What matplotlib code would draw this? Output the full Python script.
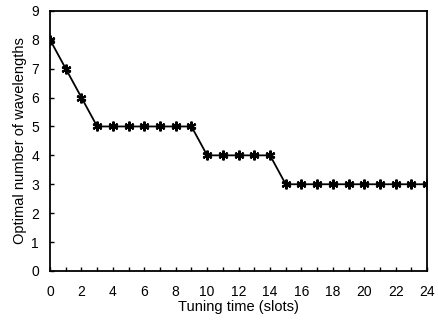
import matplotlib
matplotlib.use("Agg")
import matplotlib.pyplot as plt

tuning_time = list(range(0, 25))
wavelengths = [8, 7, 6, 5, 5, 5, 5, 5, 5, 5, 4, 4, 4, 4, 4, 3, 3, 3, 3, 3, 3, 3, 3, 3, 3]
x_ticks = list(range(0, 25, 2))
y_ticks = list(range(0, 10))

plt.rcParams['font.family'] = ['Liberation Sans', 'DejaVu Sans']
fig = plt.figure(figsize=(4.39, 3.21), dpi=100)
ax = fig.add_axes([0.114, 0.156, 0.859, 0.81])
ax.plot(tuning_time, wavelengths, color='black', lw=1.3,
        marker=(6, 2, 0), markersize=7, markeredgewidth=1.6, markeredgecolor='black')
ax.set_xlim(0, 24)
ax.set_ylim(0, 9)
ax.set_xticks(x_ticks)
ax.set_xticks(tuning_time, minor=True)
ax.set_yticks(y_ticks)
ax.tick_params(direction='in', length=3, width=1, labelsize=10)
ax.tick_params(axis='x', pad=10)
ax.tick_params(axis='y', pad=8)
ax.tick_params(which='minor', direction='in', length=3, width=1)
for s in ax.spines.values():
    s.set_linewidth(1.3)
ax.set_xlabel('Tuning time (slots)', fontsize=10.5, labelpad=1)
ax.set_ylabel('Optimal number of wavelengths', fontsize=10.5, labelpad=3)
fig.savefig('out.png', dpi=100)
